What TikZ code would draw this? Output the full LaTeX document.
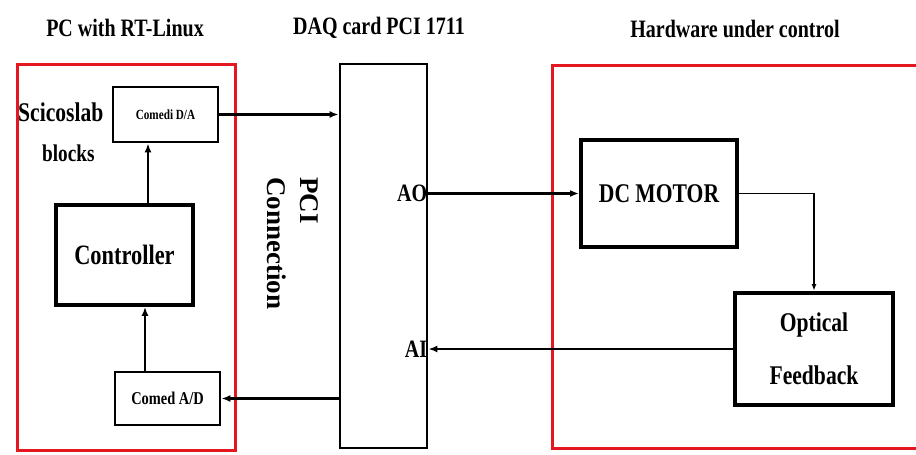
\documentclass[tikz,border=0pt]{standalone}
\usepackage{fontspec}
\setmainfont{Liberation Serif}[FakeStretch=0.8,
  BoldFont={Liberation Serif Bold}, BoldFeatures={FakeStretch=0.8}]
\newfontfamily\plainserif{Liberation Serif}[BoldFont={Liberation Serif Bold}]
\usetikzlibrary{arrows.meta,calc}
\definecolor{boxred}{RGB}{228,22,32}
\begin{document}
\begin{tikzpicture}[x=1pt,y=-1pt,
  blk/.style={draw=black, line width=#1, fill=none, inner sep=0pt, font=\bfseries},
  blk/.default=3pt,
  redbox/.style={draw=boxred, line width=3pt},
  arr/.style={draw=black, line width=2.2pt, -{Latex[length=9pt,width=7pt]}},
  thinarr/.style={draw=black, line width=1.5pt, -{Latex[length=7pt,width=5pt]}},
  lbl/.style={font=\bfseries, inner sep=1pt},
  title/.style={font=\bfseries\fontsize{25}{28}\selectfont, inner sep=0pt}
]
\useasboundingbox (0,0) rectangle (916,455);
\fill[white] (0,0) rectangle (916,455);
\begin{scope}
\clip (0,0) rectangle (916,455);
% red group boxes
\draw[redbox] (17,64) rectangle (235,450);
\draw[redbox] (552,65) rectangle (940,448);
\end{scope}

% titles
\node[title] (t1) at (125,28) {PC with RT-Linux};
\node[title] (t2) at (379,28) {DAQ card PCI 1711};
\node[title] (t3) at (735,29) {Hardware under control};

% left side blocks
\node[blk=2.8pt, minimum width=105, minimum height=55, font=\bfseries\fontsize{14}{16}\selectfont] (da) at (165.5,114.5) {Comedi D/A};
\node[blk=3.8pt, minimum width=137, minimum height=100, font=\bfseries\fontsize{28}{30}\selectfont] (ctrl) at (124.5,255) {Controller};
\node[blk=2.8pt, minimum width=105, minimum height=53, font=\bfseries\fontsize{18}{20}\selectfont] (ad) at (167.5,398.5) {Comed A/D};
\node[lbl, anchor=west, font=\bfseries\fontsize{27}{29}\selectfont] (sci) at (17,112) {Scicoslab};
\node[lbl, anchor=west, font=\bfseries\fontsize{24}{26}\selectfont] (blks) at (41,153) {blocks};

% DAQ card
\node[blk=2.8pt, minimum width=87, minimum height=384] (daq) at (383.5,256) {};
\node[rotate=-90, anchor=north west, align=left, inner sep=0pt,
      font=\plainserif\bfseries\fontsize{27}{33}\selectfont] (pci) at (319,177) {PCI\\Connection};

% hardware blocks
\node[blk=4pt, minimum width=156, minimum height=107, font=\bfseries\fontsize{27}{30}\selectfont] (dc) at (659,193.5) {DC MOTOR};
\node[blk=4pt, minimum width=158, minimum height=112, align=center, font=\bfseries\fontsize{27}{53}\selectfont] (opt) at (814,349) {Optical\\Feedback};

% port labels
\node[lbl, anchor=east, font=\bfseries\fontsize{25}{27}\selectfont] (ao) at (daq.east |- dc.west) {AO};
\node[lbl, anchor=east, font=\bfseries\fontsize{25}{27}\selectfont] (ai) at (daq.east |- opt.west) {AI};

% connectors
\draw[arr] (da.east) -- (da.east -| daq.west);
\draw[arr] ([xshift=23.5pt]ctrl.north) -- ([xshift=23.5pt]ctrl.north |- da.south);
\draw[arr] ([xshift=-22.5pt]ad.north) -- ([xshift=-22.5pt]ad.north |- ctrl.south);
\draw[arr] (ad.east -| daq.west) -- (ad.east);
\draw[arr] (daq.east |- dc.west) -- (dc.west);
\draw[thinarr] (dc.east) -| (opt.north);
\draw[arr] (opt.west) -- (opt.west -| daq.east);
\end{tikzpicture}
\end{document}
